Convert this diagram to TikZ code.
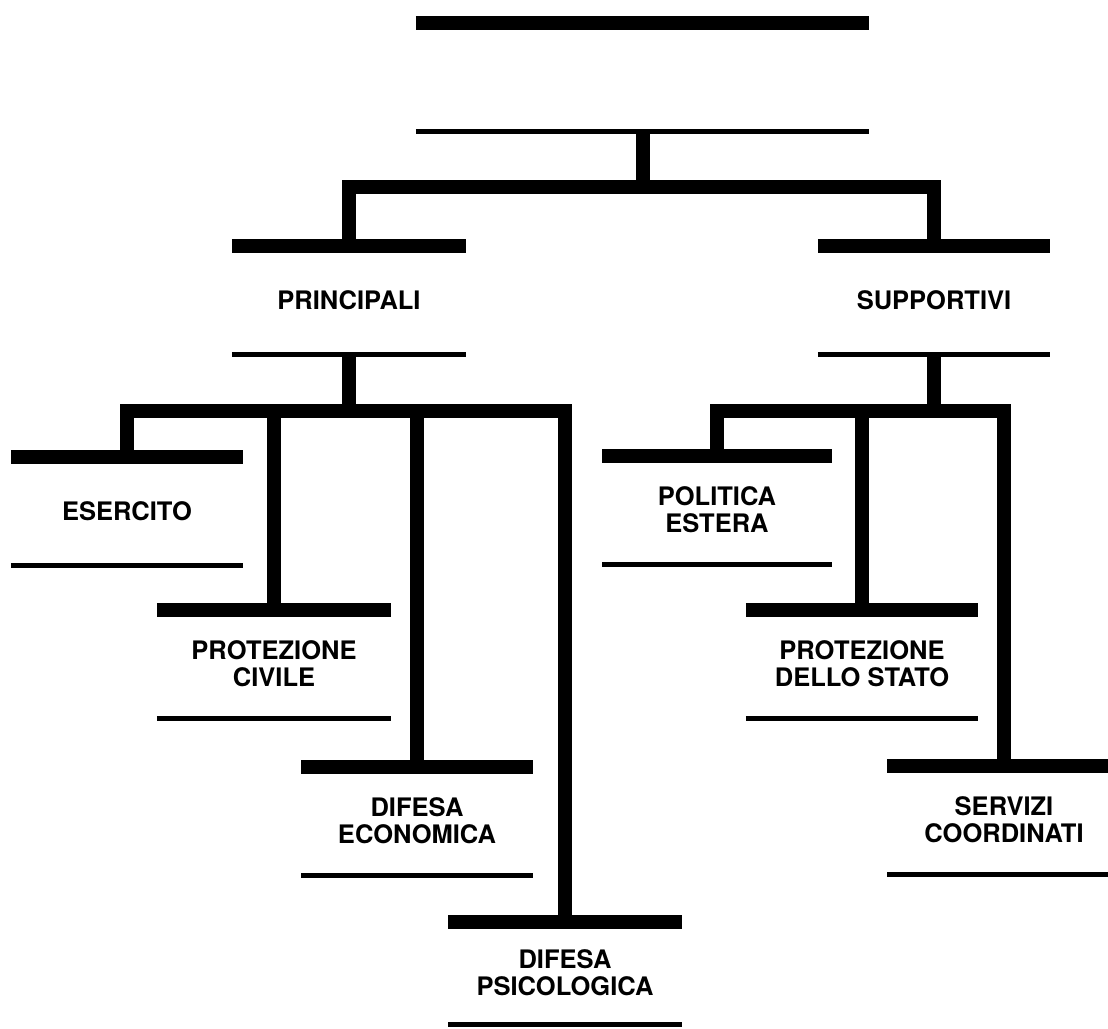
\documentclass[tikz,border=0pt]{standalone}
\usepackage{fontspec}
\setmainfont{TeX Gyre Heros}
\usepackage{tikz}

\tikzset{
    box/.style={minimum width=233pt, minimum height=108pt, inner sep=0pt, align=center,
        font=\bfseries\fontsize{25.5}{27}\selectfont},
    bar/.style={line width=14pt},
    rule/.style={line width=5pt},
    link/.style={line width=14pt, line join=miter}
}

\begin{document}
\begin{tikzpicture}[x=1pt,y=-1pt]
    \useasboundingbox (0,0) rectangle (1108,1028);

    \node[box, minimum width=453pt] (root) at (642.5,77) {};
    \node[box, minimum width=234pt] (principali) at (349,300) {PRINCIPALI};
    \node[box, minimum width=232pt] (supportivi) at (934,300) {SUPPORTIVI};

    \node[box, minimum width=232pt] (esercito) at (127,511) {ESERCITO};
    \node[box, minimum width=234pt] (protciv) at (274,664) {PROTEZIONE\\CIVILE};
    \node[box, minimum width=231pt] (difecon) at (417,821) {DIFESA\\ECONOMICA};
    \node[box, minimum width=233pt, minimum height=102pt] (difpsic) at (565,973) {DIFESA\\PSICOLOGICA};

    \node[box, minimum width=229pt] (politica) at (717,510) {POLITICA\\ESTERA};
    \node[box, minimum width=232pt] (protstato) at (862,664) {PROTEZIONE\\DELLO STATO};
    \node[box, minimum width=233pt] (servizi) at (1004,820) {SERVIZI\\COORDINATI};

    \foreach \n in {root,principali,supportivi,esercito,protciv,difecon,difpsic,politica,protstato,servizi} {
        \draw[bar] (\n.north west) -- (\n.north east);
        \draw[rule] (\n.south west) -- (\n.south east);
    }

    % first level
    \coordinate (bus) at (645,187);
    \draw[link] (root.south) -- (root.south |- bus);
    \draw[link] (principali.north) |- (bus) -| (supportivi.north);

    % principali
    \coordinate (lbus) at (349,411);
    \draw[link] (principali.south) -- (lbus);
    \draw[link] (esercito.north) |- (lbus) -| (difpsic.north);
    \draw[link] (protciv.north) -- (protciv.north |- lbus);
    \draw[link] (difecon.north) -- (difecon.north |- lbus);

    % supportivi
    \coordinate (rbus) at (934,411);
    \draw[link] (supportivi.south) -- (rbus);
    \draw[link] (politica.north) |- (rbus) -| (servizi.north);
    \draw[link] (protstato.north) -- (protstato.north |- rbus);
\end{tikzpicture}
\end{document}
